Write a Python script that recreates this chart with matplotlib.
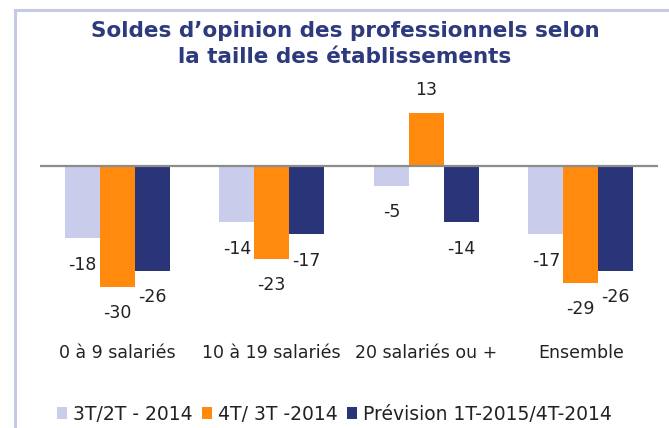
import numpy as np
import matplotlib
matplotlib.use('Agg')
from matplotlib import pyplot as plt
from matplotlib.lines import Line2D
from matplotlib.patches import Patch

## Données
categories = ['0 à 9 salariés', '10 à 19 salariés', '20 salariés ou +', 'Ensemble']
series = ['3T/2T - 2014', '4T/ 3T -2014', 'Prévision 1T-2015/4T-2014']
t3_t2 = [-18, -14, -5, -17]
t4_t3 = [-30, -23, 13, -29]
prevision = [-26, -17, -14, -26]

couleurs = ['#C9CCEB', '#FF8A0D', '#2A3479']
navy_titre = '#2E3A7E'

plt.rcParams['font.family'] = ['DejaVu Sans']

fig = plt.figure(figsize=(6.69, 4.28), dpi=100)

# cadre lavande (haut + gauche)
fig.add_artist(Line2D([15/669, 1.0], [1-10/428, 1-10/428], color='#C5CBE5', lw=2.2,
                      transform=fig.transFigure))
fig.add_artist(Line2D([15/669, 15/669], [0, 1-10/428], color='#C5CBE5', lw=2.2,
                      transform=fig.transFigure))

ax = fig.add_axes([40/669, 1-330/428, 618/669, 250/428])

x = np.arange(len(categories))
w = 0.226
valeurs = [t3_t2, t4_t3, prevision]
for i, (vals, col) in enumerate(zip(valeurs, couleurs)):
    pos = x + (i-1)*w
    ax.bar(pos, vals, width=w, color=col, edgecolor='none', label=series[i])
    for xp, v in zip(pos, vals):
        off = 17 if v > 0 else -19
        ax.annotate(str(v), (xp, v), xytext=(0, off), textcoords='offset points',
                    ha='center', va='center', fontsize=12.5, color='#222222')

ax.axhline(0, color='#8C8C8C', lw=1.6)
ax.set_xlim(-0.5, 3.5)
ax.set_ylim(-40.7, 21.3)
ax.set_yticks([])
ax.set_xticks(x)
ax.set_xticklabels(categories, fontsize=12.5, color='#222222')
ax.tick_params(axis='x', length=0, pad=10)
for s in ax.spines.values():
    s.set_visible(False)

fig.text(345/669, 1-44/428, "Soldes d\u2019opinion des professionnels selon\nla taille des établissements",
         ha='center', va='center', fontsize=15.5, fontweight='bold', color=navy_titre,
         linespacing=1.4)

handles = [Patch(facecolor=c, edgecolor='none') for c in couleurs]
fig.legend(handles, series, loc='center', bbox_to_anchor=(0.5, 1-414/428), ncol=3,
           frameon=False, fontsize=13.5, handlelength=0.55, handleheight=0.55,
           handletextpad=0.3, columnspacing=0.5, labelcolor='#222222')

fig.savefig('out.png', dpi=100)
